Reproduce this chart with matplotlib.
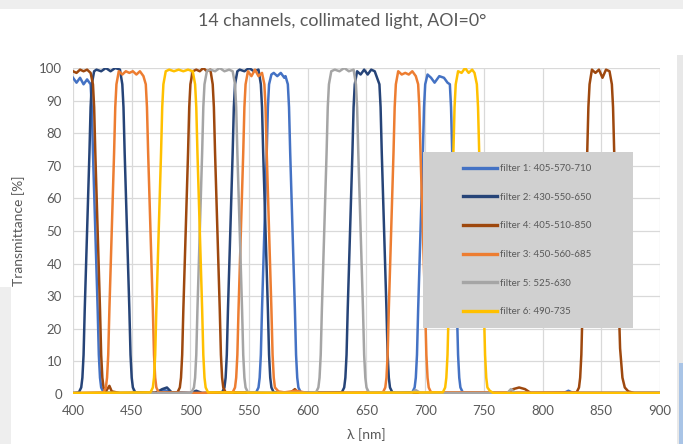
import matplotlib
matplotlib.use("Agg")
import matplotlib.pyplot as plt
from matplotlib.patches import Rectangle
from matplotlib.ticker import MultipleLocator

plt.rcParams["font.family"] = ["Lato", "DejaVu Sans"]

# ---------- data (wavelength nm, transmittance %) ----------
title = "14 channels, collimated light, AOI=0°"

f1_label = "filter 1: 405-570-710"
f1_points = [
    (400, 97), (403, 95.5), (406, 97), (409, 95), (412, 96.5), (413, 96), (415, 95),
    (416, 88), (417, 74), (419, 50), (421, 26), (422, 12), (423, 5), (424, 2), (426, 0.5),
    (440, 0.3), (470, 0.3), (478, 1.2), (485, 0.3), (540, 0.3),
    (556, 0.5), (558, 2), (559, 5), (560, 12), (561, 26), (563, 50), (565, 74), (566, 88),
    (567, 95), (569, 98), (571, 98.5), (574, 97.5), (577, 98.5), (580, 97), (581, 97.5),
    (583, 95), (584, 88), (585, 74), (587, 50), (589, 26), (590, 12), (591, 5), (592, 2),
    (594, 0.5), (620, 0.3), (660, 0.3),
    (689, 0.5), (691, 2), (692, 5), (693, 12), (694, 26), (696, 50), (698, 74), (699, 88),
    (700, 95), (702, 98), (705, 97), (708, 95.5), (712, 97.5), (716, 97), (719, 95.5),
    (721, 95), (722, 88), (723, 74), (725, 50), (727, 26), (728, 12), (729, 5), (730, 2),
    (732, 0.5), (760, 0.3), (818, 0.3), (822, 1), (826, 0.3), (900, 0.3),
]

f2_label = "filter 2: 430-550-650"
f2_points = [
    (400, 0.3), (405, 0.5), (407, 2), (408, 5), (409, 12), (410, 26), (412, 50), (414, 74),
    (415, 88), (416, 95), (418, 99), (420, 99.5), (424, 99), (428, 100), (432, 99),
    (436, 100), (440, 99.5), (442, 95), (443, 88), (444, 74), (446, 50), (448, 26),
    (449, 12), (450, 5), (451, 2), (453, 0.5),
    (470, 0.3), (476, 1.5), (480, 2), (484, 0.5), (500, 0.3), (505, 1), (510, 0.3),
    (527, 0.5), (529, 2), (530, 5), (531, 12), (532, 26), (534, 50), (536, 74), (537, 88),
    (538, 95), (540, 99), (542, 99.5), (546, 99), (550, 100), (554, 99), (558, 99.5),
    (560, 95), (561, 88), (562, 74), (564, 50), (566, 26), (567, 12), (568, 5), (569, 2),
    (571, 0.5), (600, 0.3),
    (629, 0.5), (631, 2), (632, 5), (633, 12), (634, 26), (636, 50), (638, 74), (639, 88),
    (640, 95), (642, 99), (645, 98), (648, 99.5), (651, 98), (654, 99.5), (657, 99),
    (661, 95), (662, 88), (663, 74), (665, 50), (667, 26), (668, 12), (669, 5), (670, 2),
    (672, 0.5), (675, 0.3), (700, 0.3), (900, 0.3),
]

f4_label = "filter 4: 405-510-850"
f4_points = [
    (400, 99), (403, 98.5), (406, 99.5), (409, 99), (412, 99.5), (415, 98.5), (417, 95),
    (418, 88), (419, 74), (421, 50), (423, 26), (424, 12), (425, 5), (426, 2), (428, 0.8),
    (431, 2.5), (433, 0.8), (440, 0.3),
    (489, 0.5), (491, 2), (492, 5), (493, 12), (494, 26), (496, 50), (498, 74), (499, 88),
    (500, 95), (502, 99), (505, 99.5), (508, 99), (511, 100), (514, 99), (517, 99.5),
    (519, 95), (520, 88), (521, 74), (523, 50), (525, 26), (526, 12), (527, 5), (528, 2),
    (530, 0.5), (560, 0.3), (585, 0.3), (589, 1.5), (592, 0.3), (770, 0.3), (775, 1.5),
    (780, 2), (785, 1.5), (790, 0.3),
    (829, 0.5), (831, 2), (832, 5), (833, 12), (834, 26), (836, 50), (838, 74), (839, 88),
    (840, 95), (842, 99.5), (845, 98.5), (848, 99.5), (851, 97), (854, 99.5), (857, 99),
    (859, 95), (860, 88), (861, 74), (863, 50), (865, 26), (866, 14), (868, 5), (870, 2),
    (873, 0.8), (878, 0.3), (900, 0.3),
]

f3_label = "filter 3: 450-560-685"
f3_points = [
    (400, 0.3), (426, 0.5), (428, 2), (429, 5), (430, 12), (431, 26), (433, 50), (435, 74),
    (436, 88), (437, 95), (439, 99), (442, 98), (445, 99), (448, 98.5), (451, 99),
    (454, 98), (457, 99), (460, 97.5), (462, 95), (463, 88), (464, 74), (466, 50),
    (468, 26), (469, 12), (470, 5), (471, 2), (473, 0.5), (500, 0.3),
    (536, 0.5), (538, 2), (539, 5), (540, 12), (541, 26), (543, 50), (545, 74), (546, 88),
    (547, 95), (549, 99), (552, 97.5), (555, 99.5), (558, 97.5), (561, 98.5), (563, 95),
    (564, 88), (565, 74), (567, 50), (569, 26), (570, 12), (571, 5), (572, 2), (575, 0.8),
    (580, 0.5), (590, 1), (600, 0.3),
    (664, 0.5), (666, 2), (667, 5), (668, 12), (669, 26), (671, 50), (673, 74), (674, 88),
    (675, 95), (677, 99), (680, 98), (683, 98.5), (686, 98), (689, 99), (692, 97.5),
    (694, 95), (695, 88), (696, 74), (698, 50), (700, 26), (701, 12), (702, 5), (703, 2),
    (705, 0.5), (735, 0.5), (900, 0.3),
]

f5_label = "filter 5: 525-630"
f5_points = [
    (400, 0.3), (500, 0.3), (501, 0.5), (503, 2), (504, 5), (505, 12), (506, 26), (508, 50),
    (510, 74), (511, 88), (512, 95), (514, 99), (517, 99.5), (521, 99), (525, 100),
    (529, 99), (533, 99.5), (536, 99), (538, 95), (539, 88), (540, 74), (542, 50),
    (544, 26), (545, 12), (546, 5), (547, 2), (549, 0.5), (590, 0.3),
    (607, 0.5), (609, 2), (610, 5), (611, 12), (612, 26), (614, 50), (616, 74), (617, 88),
    (618, 95), (620, 99), (623, 99.5), (627, 99), (631, 100), (635, 99), (639, 99.5),
    (641, 95), (642, 88), (643, 74), (645, 50), (647, 26), (648, 12), (649, 5), (650, 2),
    (652, 0.5), (688, 0.3), (692, 1.2), (696, 0.3), (770, 0.3), (773, 1.5), (777, 0.3),
    (900, 0.3),
]

f6_label = "filter 6: 490-735"
f6_points = [
    (400, 0.3), (466, 0.5), (468, 2), (469, 5), (470, 12), (471, 26), (473, 50), (475, 74),
    (476, 88), (477, 95), (479, 99), (482, 99.5), (486, 99), (490, 99.5), (494, 99),
    (498, 99.5), (502, 99), (504, 95), (505, 88), (506, 74), (508, 50), (510, 26),
    (511, 12), (512, 5), (513, 2), (515, 0.5), (600, 0.3),
    (715, 0.5), (717, 2), (718, 5), (719, 12), (720, 26), (722, 50), (724, 74), (725, 88),
    (726, 95), (728, 99), (731, 98.5), (734, 100), (737, 98.5), (740, 99.5), (742, 98.5),
    (744, 95), (745, 88), (746, 74), (748, 50), (750, 26), (751, 12), (752, 5), (753, 2),
    (755, 1), (758, 0.3), (900, 0.3),
]

# ---------- figure ----------
fig = plt.figure(figsize=(6.83, 4.44), dpi=100)
fig.patch.set_facecolor("white")

# slide-like frame around the chart
fig.add_artist(Rectangle((0, 1 - 9 / 444), 1, 9 / 444, transform=fig.transFigure,
                         facecolor="#eeeeee", edgecolor="none"))
fig.add_artist(Rectangle((0, 0), 11 / 683, 157 / 444, transform=fig.transFigure,
                         facecolor="#eeeeee", edgecolor="none"))
fig.add_artist(Rectangle((677 / 683, 0), 6 / 683, 389 / 444, transform=fig.transFigure,
                         facecolor="#e8e8e8", edgecolor="none"))
fig.add_artist(Rectangle((679 / 683, 0), 4 / 683, 81 / 444, transform=fig.transFigure,
                         facecolor="#a9c4e6", edgecolor="none"))

ax = fig.add_axes([73 / 683, 50 / 444, 587 / 683, 326 / 444])
ax.set_facecolor("white")

series = [
    (f1_points, f1_label, "#4472C4"),
    (f2_points, f2_label, "#264478"),
    (f4_points, f4_label, "#9E480E"),
    (f3_points, f3_label, "#ED7D31"),
    (f5_points, f5_label, "#A5A5A5"),
    (f6_points, f6_label, "#FFC000"),
]
for pts, lab, col in series:
    nm, t = zip(*pts)
    ax.plot(nm, t, color=col, lw=1.8, label=lab, solid_joinstyle="round", zorder=3)

ax.set_xlim(400, 900)
ax.set_ylim(0, 100)
ax.xaxis.set_major_locator(MultipleLocator(50))
ax.yaxis.set_major_locator(MultipleLocator(10))
ax.grid(True, color="#d9d9d9", linewidth=0.9)
ax.set_axisbelow(True)
for s in ax.spines.values():
    s.set_visible(False)
ax.tick_params(length=0, labelsize=9.5, labelcolor="#595959", pad=8)

ax.set_xlabel("λ [nm]", fontsize=10, color="#595959")
ax.xaxis.set_label_coords(0.5, -0.105)
ax.set_ylabel("Transmittance [%]", fontsize=10, color="#595959")
ax.yaxis.set_label_coords(-0.082, 0.5)

fig.text(0.501, 0.953, title, ha="center", va="center", fontsize=12.8, color="#595959")

# legend on a grey panel covering the curves
ax.add_patch(Rectangle((0.596, 0.202), 0.358, 0.540, transform=ax.transAxes,
                       facecolor="#d0d0d0", edgecolor="none", zorder=5))
leg = ax.legend(loc="center left", bbox_to_anchor=(0.664, 0.472), frameon=False,
                fontsize=7, labelcolor="#595959", handlelength=3.5,
                handletextpad=0.3, labelspacing=2.02, borderpad=0, borderaxespad=0)
leg.set_zorder(6)
for h in leg.get_lines():
    h.set_linewidth(2.4)

fig.savefig("out.png", dpi=100)
